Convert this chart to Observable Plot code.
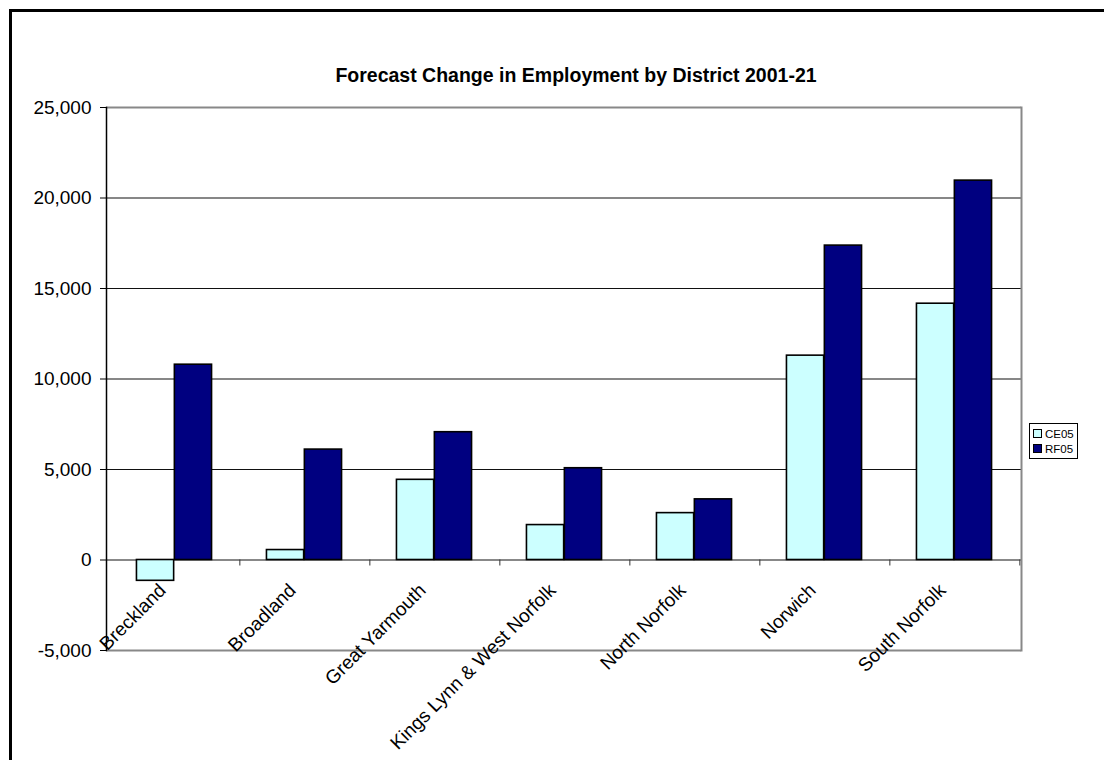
<!DOCTYPE html>
<html>
<head>
<meta charset="utf-8">
<script src="https://cdn.jsdelivr.net/npm/d3@7"></script>
<script src="https://cdn.jsdelivr.net/npm/@observablehq/plot@0.6"></script>
<style>
  html, body { margin: 0; padding: 0; background: #fff; overflow: hidden; width: 1104px; height: 760px; }
  #wrap { position: relative; width: 1104px; height: 760px; overflow: hidden; font-family: "Liberation Sans", Arial, sans-serif; }
  #chart { position: absolute; left: 0; top: 0; }
  #frame { position: absolute; left: 9px; top: 9px; width: 1200px; height: 900px; border-left: 3px solid #000; border-top: 3px solid #000; pointer-events: none; }
  #title { position: absolute; left: 9px; width: 1134px; top: 63px; line-height: 24px; text-align: center; font-weight: bold; font-size: 19.5px; color: #000; }
  #legend { position: absolute; left: 1029px; top: 423px; width: 47px; height: 34px; border: 1px solid #000; background: #fff; font-size: 11.5px; color: #000; }
  .li { position: absolute; left: 3px; height: 15px; line-height: 15px; white-space: nowrap; }
  .sw { display: inline-block; width: 7px; height: 7px; border: 1px solid #000; margin-right: 3px; vertical-align: 0px; }
</style>
</head>
<body>
<div id="wrap">
  <div id="chart"></div>
  <div id="frame"></div>
  <div id="title"></div>
  <div id="legend"></div>
</div>
<script>
// ---- data ----
const titleText = "Forecast Change in Employment by District 2001-21";
const districts = ["Breckland", "Broadland", "Great Yarmouth", "Kings Lynn & West Norfolk", "North Norfolk", "Norwich", "South Norfolk"];
const seriesNames = ["CE05", "RF05"];
const ce05 = [-1150, 550, 4430, 1930, 2590, 11290, 14160];
const rf05 = [10790, 6100, 7060, 5070, 3350, 17370, 20960];
const yTicks = [-5000, 0, 5000, 10000, 15000, 20000, 25000];
const seriesColors = ["#CCFFFF", "#000080"];

// ---- layout ----
const W = 1104, H = 760, ML = 106, MR = 83, MT = 107, MB = 110;
const bw = (W - ML - MR) / districts.length;
const outerInset = 0.21 * bw, innerInset = 0.5 * bw;
const FONT = "Liberation Sans, Arial, sans-serif";

const rowsCE = districts.map((d, i) => ({district: d, series: seriesNames[0], value: ce05[i]}));
const rowsRF = districts.map((d, i) => ({district: d, series: seriesNames[1], value: rf05[i]}));

const yMin = yTicks[0], yMax = yTicks[yTicks.length - 1];

const chart = Plot.plot({
  width: W, height: H,
  marginLeft: ML, marginRight: MR, marginTop: MT, marginBottom: MB,
  style: {background: "transparent", fontFamily: FONT, color: "#000"},
  x: {domain: districts, padding: 0, axis: null},
  y: {domain: [yMin, yMax], axis: null},
  color: {domain: seriesNames, range: seriesColors},
  marks: [
    Plot.ruleY(yTicks.filter(t => t !== 0 && t !== yMin && t !== yMax), {stroke: "#111", strokeWidth: 1.2}),
    Plot.ruleY([yMin, yMax], {stroke: "#888", strokeWidth: 2}),
    Plot.ruleY([0], {stroke: "#888", strokeWidth: 2}),
    Plot.ruleX(districts, {x: d => d, y1: () => 0, y2: () => 0, insetBottom: -6, dx: bw / 2, stroke: "#333", strokeWidth: 1}),
    Plot.frame({anchor: "right", stroke: "#888", strokeWidth: 2}),
    Plot.barY(rowsCE, {x: "district", y: "value", fill: "series", stroke: "#000", strokeWidth: 1.6, insetLeft: outerInset, insetRight: innerInset}),
    Plot.barY(rowsRF, {x: "district", y: "value", fill: "series", stroke: "#000", strokeWidth: 1.6, insetLeft: innerInset, insetRight: outerInset}),
    Plot.frame({anchor: "left", stroke: "#000", strokeWidth: 1.5}),
    Plot.axisY({ticks: yTicks, tickFormat: d => d.toLocaleString("en-US"), tickSize: 6, tickPadding: 9, fontSize: 19, label: null, stroke: "#000"}),
    Plot.text(districts, {x: d => d, y: () => 0, text: d => d, rotate: -45, textAnchor: "end", lineAnchor: "top", dx: -17, dy: 22, fontSize: 19, fill: "#000"})
  ]
});
document.getElementById("chart").appendChild(chart);

document.getElementById("title").textContent = titleText;
const leg = document.getElementById("legend");
seriesNames.forEach((s, i) => {
  const row = document.createElement("div");
  row.className = "li";
  row.style.top = (3 + i * 15) + "px";
  const sw = document.createElement("span");
  sw.className = "sw";
  sw.style.background = seriesColors[i];
  row.appendChild(sw);
  row.appendChild(document.createTextNode(s));
  leg.appendChild(row);
});
</script>
</body>
</html>
